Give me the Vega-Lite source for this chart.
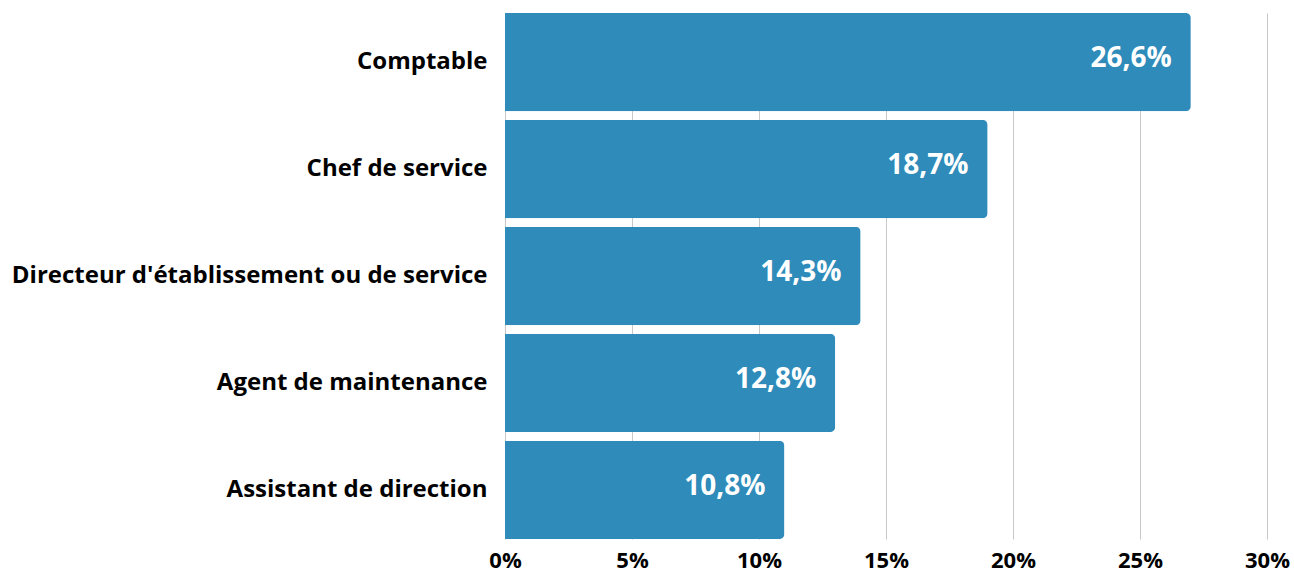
{
  "$schema": "https://vega.github.io/schema/vega-lite/v6.json",
  "width": 762,
  "height": 526,
  "autosize": {"type": "none"},
  "padding": {"left": 505, "top": 13, "right": 27, "bottom": 34},
  "background": "white",
  "config": {
    "view": {"stroke": null},
    "font": "Open Sans"
  },
  "data": {
    "values": [
      {"poste": "Comptable", "valeur": 27.0, "label": "26,6%"},
      {"poste": "Chef de service", "valeur": 19.0, "label": "18,7%"},
      {"poste": "Directeur d'établissement ou de service", "valeur": 14.0, "label": "14,3%"},
      {"poste": "Agent de maintenance", "valeur": 13.0, "label": "12,8%"},
      {"poste": "Assistant de direction", "valeur": 11.0, "label": "10,8%"}
    ]
  },
  "encoding": {
    "y": {
      "field": "poste",
      "type": "nominal",
      "sort": null,
      "scale": {"paddingInner": 0.08, "paddingOuter": 0},
      "axis": {
        "title": null,
        "domain": false,
        "ticks": false,
        "labelFont": "Open Sans",
        "labelFontWeight": "bold",
        "labelFontSize": 24,
        "labelColor": "#000000",
        "labelPadding": 18,
        "labelLimit": 600
      }
    },
    "x": {
      "field": "valeur",
      "type": "quantitative",
      "scale": {"domain": [0, 30], "nice": false},
      "axis": {
        "title": null,
        "values": [0, 5, 10, 15, 20, 25, 30],
        "labelExpr": "datum.value + '%'",
        "domain": false,
        "ticks": false,
        "grid": true,
        "gridColor": "#c8c8c8",
        "gridWidth": 1,
        "labelFont": "Open Sans",
        "labelFontWeight": "bold",
        "labelFontSize": 22,
        "labelColor": "#000000",
        "labelPadding": 11,
        "labelFlush": false
      }
    }
  },
  "layer": [
    {
      "mark": {"type": "bar", "color": "#2e8bba", "cornerRadiusTopRight": 5, "cornerRadiusBottomRight": 5}
    },
    {
      "mark": {"type": "text", "align": "right", "baseline": "middle", "dx": -19, "dy": -3, "color": "white", "font": "Open Sans", "fontWeight": "bold", "fontSize": 28},
      "encoding": {"text": {"field": "label"}}
    }
  ]
}
